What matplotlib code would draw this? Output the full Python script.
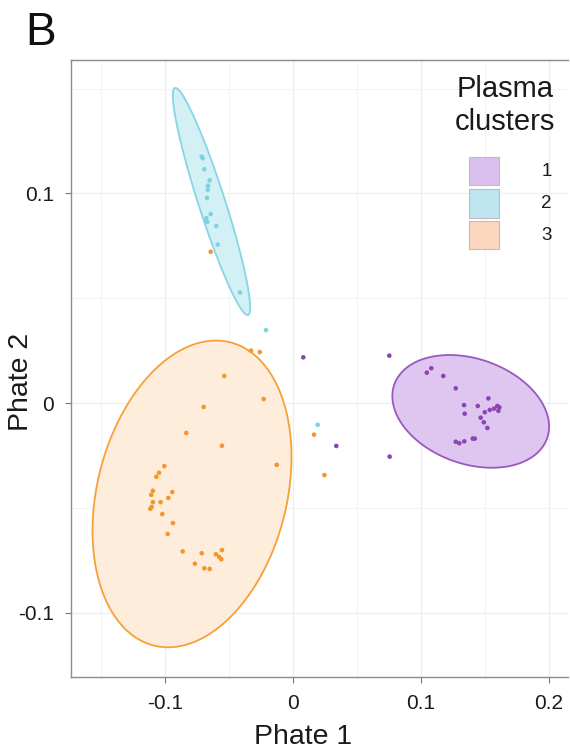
import numpy as np
import matplotlib
matplotlib.use("Agg")
import matplotlib.pyplot as plt
from matplotlib.patches import Polygon, Rectangle

plt.rcParams['font.family'] = ['Liberation Sans', 'DejaVu Sans']

# ---------------- data ----------------
c1_x = [0.0080, 0.0752, 0.0338, 0.0755, 0.1080, 0.1045, 0.1174, 0.1271, 0.1526,
        0.1336, 0.1443, 0.1596, 0.1612, 0.1570, 0.1537, 0.1604, 0.1498, 0.1341,
        0.1466, 0.1490, 0.1518, 0.1271, 0.1299, 0.1338, 0.1404, 0.1420]
c1_y = [0.0218, 0.0226, -0.0205, -0.0256, 0.0166, 0.0145, 0.0129, 0.0070, 0.0022,
        -0.0010, -0.0014, -0.0014, -0.0021, -0.0027, -0.0033, -0.0037, -0.0044, -0.0051,
        -0.0070, -0.0092, -0.0119, -0.0185, -0.0192, -0.0183, -0.0170, -0.0170]

c2_x = [-0.0713, -0.0705, -0.0693, -0.0651, -0.0664, -0.0666, -0.0672, -0.0643,
        -0.0677, -0.0670, -0.0599, -0.0588, -0.0414, -0.0211, 0.0193]
c2_y = [0.1176, 0.1168, 0.1116, 0.1063, 0.1037, 0.1017, 0.0979, 0.0902,
        0.0882, 0.0864, 0.0845, 0.0756, 0.0527, 0.0348, -0.0104]

c3_x = [-0.0328, -0.0260, -0.0537, -0.0229, -0.0698, -0.0834, -0.0555, -0.0127,
        -0.1005, -0.1047, -0.1068, -0.1094, -0.1107, -0.0943, -0.0974, -0.1094,
        -0.1034, -0.1104, -0.1115, -0.1021, -0.0938, -0.0979, -0.0862, -0.0713,
        -0.0555, -0.0602, -0.0576, -0.0560, -0.0766, -0.0693, -0.0651, -0.0643,
        0.0164, 0.0245]
c3_y = [0.0250, 0.0243, 0.0129, 0.0019, -0.0019, -0.0143, -0.0204, -0.0295,
        -0.0301, -0.0333, -0.0352, -0.0419, -0.0438, -0.0425, -0.0453, -0.0473,
        -0.0473, -0.0496, -0.0505, -0.0530, -0.0573, -0.0625, -0.0708, -0.0717,
        -0.0702, -0.0722, -0.0735, -0.0746, -0.0767, -0.0789, -0.0792, 0.0722,
        -0.0151, -0.0344]

# ellipse parameters per cluster: centre, half-extents, correlation
ell_cx = [0.1388, -0.0637, -0.0789]
ell_cy = [-0.0040, 0.0962, -0.0434]
ell_sx = [0.0612, 0.0302, 0.0777]
ell_sy = [0.0269, 0.0542, 0.0732]
ell_rho = [-0.27, -0.9325, 0.24]

cluster_labels = ["1", "2", "3"]
x_ticks = [-0.1, 0, 0.1, 0.2]
x_ticklabels = ["-0.1", "0", "0.1", "0.2"]
y_ticks = [-0.1, 0, 0.1]
y_ticklabels = ["-0.1", "0", "0.1"]

# ---------------- style ----------------
pt_colors = ["#8c46b4", "#7ed3e0", "#f5962a"]
ell_edge = ["#9a58c0", "#86d6e3", "#f7a038"]
ell_fill = ["#dfc6f1", "#d3f0f5", "#feeddb"]
key_fill = ["#dbc0ee", "#bfe6f0", "#fdd6bf"]

W, H = 570, 752
fig = plt.figure(figsize=(W / 100, H / 100), dpi=100)
ax = fig.add_axes([0.1237, 0.0991, 0.8728, 0.8211])
ax.set_xlim(-0.1738, 0.2148)
ax.set_ylim(-0.131, 0.1637)

# grid
ax.set_xticks(x_ticks)
ax.set_xticklabels(x_ticklabels)
ax.set_yticks(y_ticks)
ax.set_yticklabels(y_ticklabels)
ax.set_xticks([-0.15, -0.05, 0.05, 0.15], minor=True)
ax.set_yticks([-0.05, 0.05, 0.15], minor=True)
ax.grid(True, which='major', color='#ebf1f1', linewidth=1.0, zorder=0)
ax.grid(True, which='minor', color='#f1f5f5', linewidth=0.8, zorder=0)
ax.tick_params(which='minor', length=0)
ax.tick_params(which='major', length=4, width=0.8, color='#7a7a7a',
               labelsize=15, labelcolor='#1a1a1a', pad=8)
ax.set_axisbelow(True)

for s in ['left', 'bottom', 'top']:
    ax.spines[s].set_color('#8a8a8a')
    ax.spines[s].set_linewidth(1.0)
ax.spines['right'].set_visible(False)

# ellipses
t = np.linspace(0, 2 * np.pi, 200)
for i in range(3):
    sx, sy, r = ell_sx[i], ell_sy[i], ell_rho[i]
    M = np.array([[sx * sx, r * sx * sy], [r * sx * sy, sy * sy]])
    L = np.linalg.cholesky(M)
    pts = (L @ np.vstack([np.cos(t), np.sin(t)])).T + np.array([ell_cx[i], ell_cy[i]])
    ax.add_patch(Polygon(pts, closed=True, facecolor=ell_fill[i], edgecolor='none', zorder=1))
    ax.add_patch(Polygon(pts, closed=True, facecolor='none', edgecolor=ell_edge[i],
                         linewidth=1.3, zorder=3))

# points
for xs, ys, col in [(c1_x, c1_y, pt_colors[0]), (c2_x, c2_y, pt_colors[1]),
                    (c3_x, c3_y, pt_colors[2])]:
    ax.scatter(xs, ys, s=11, color=col, edgecolors='none', zorder=4)

# axis titles
fig.text(303 / W, 1 - 744 / H, "Phate 1", fontsize=20.5, color='#1a1a1a',
         ha='center', va='baseline')
fig.text(21 / W, 1 - 382 / H, "Phate 2", fontsize=20.5, color='#1a1a1a',
         ha='center', va='center', rotation=90)

# panel letter
fig.text(25 / W, 1 - 45 / H, "B", fontsize=33, color='#111111', ha='left', va='baseline')

# legend (manual)
fig.text(505 / W, 1 - 97 / H, "Plasma", fontsize=21, color='#1a1a1a', ha='center', va='baseline')
fig.text(505 / W, 1 - 130 / H, "clusters", fontsize=21, color='#1a1a1a', ha='center', va='baseline')
key_tops = [156.7, 189.0, 221.0]
for i in range(3):
    y0 = key_tops[i]
    fig.patches.append(Rectangle((469 / W, 1 - (y0 + 28.5) / H), 30.5 / W, 28.5 / H,
                                 transform=fig.transFigure, facecolor=key_fill[i],
                                 edgecolor='#bdbdbd', linewidth=0.8))
    fig.text(546.5 / W, 1 - (y0 + 14.5) / H, cluster_labels[i], fontsize=13.5,
             color='#1a1a1a', ha='center', va='center')

fig.savefig("out.png", dpi=100)
